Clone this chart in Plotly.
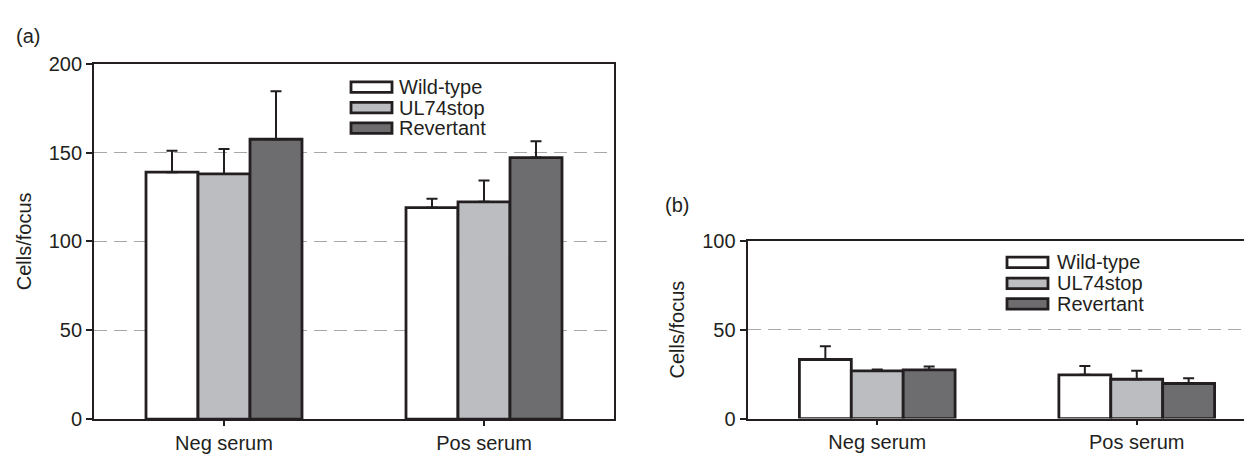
import plotly.graph_objects as go

# ---------------- data ----------------
categories = ["Neg serum", "Pos serum"]
series_names = ["Wild-type", "UL74stop", "Revertant"]

# panel (a)
a_wild = [139.0, 119.0]
a_wild_err = [12.0, 5.0]
a_ul74 = [138.0, 122.3]
a_ul74_err = [14.0, 12.0]
a_rev = [157.5, 147.2]
a_rev_err = [27.0, 9.2]

# panel (b)
b_wild = [33.2, 24.6]
b_wild_err = [7.4, 5.0]
b_ul74 = [26.8, 22.1]
b_ul74_err = [0.8, 4.8]
b_rev = [27.4, 19.7]
b_rev_err = [1.8, 3.0]

a_ticks = [0, 50, 100, 150, 200]
b_ticks = [0, 50, 100]

# ---------------- style ----------------
W, H = 1252, 463
OFF = 8  # default page body margin of the browser
INK = "#231f20"
GRID = "#a8a8a8"
FILLS = ["#ffffff", "#bcbdc0", "#6d6d6f"]
FONT = "Liberation Sans, Arial, Helvetica, sans-serif"
FS = 20


def px(x):
    return (x - OFF) / W


def py(y):
    return 1 - (y - OFF) / H


fig = go.Figure()

panels = [
    ("x", "y", [a_wild, a_ul74, a_rev], [a_wild_err, a_ul74_err, a_rev_err]),
    ("x2", "y2", [b_wild, b_ul74, b_rev], [b_wild_err, b_ul74_err, b_rev_err]),
]
for xa, ya, vals, errs in panels:
    for name, v, e, col in zip(series_names, vals, errs, FILLS):
        fig.add_trace(go.Bar(
            x=categories, y=v, name=name, xaxis=xa, yaxis=ya,
            marker=dict(color=col, line=dict(color=INK, width=2.8)),
            error_y=dict(type="data", symmetric=False, array=e,
                         arrayminus=[0] * len(e), color=INK,
                         thickness=2, width=5.5),
            showlegend=False,
        ))

axis_common = dict(
    showline=True, linecolor=INK, linewidth=1.8,
    ticks="outside", tickcolor=INK, tickwidth=1.5,
    tickfont=dict(family=FONT, size=FS, color=INK),
    zeroline=False,
)

fig.update_layout(
    width=W, height=H,
    margin=dict(l=0, r=0, t=0, b=0),
    paper_bgcolor="white", plot_bgcolor="white",
    barmode="group", bargap=0.4, bargroupgap=0,
    font=dict(family=FONT, size=FS, color=INK),
    xaxis=dict(domain=[px(94), px(614)], range=[-0.5, 1.5], anchor="y",
               mirror=True, showgrid=False, ticklen=5, **axis_common),
    yaxis=dict(domain=[py(428), py(55)], range=[0, 200], anchor="x",
               tickvals=a_ticks, mirror=True, ticklen=6,
               showgrid=True, gridcolor=GRID, gridwidth=1.3, griddash="13px,7px",
               title=dict(text="Cells/focus", standoff=12,
                          font=dict(family=FONT, size=FS, color=INK)),
               **axis_common),
    xaxis2=dict(domain=[px(747.5), 1.0], range=[-0.5, 1.475], anchor="y2",
                mirror=True, showgrid=False, ticklen=5, **axis_common),
    yaxis2=dict(domain=[py(427.5), py(240.7)], range=[0, 100], anchor="x2",
                tickvals=b_ticks, mirror=False, ticklen=6,
                showgrid=True, gridcolor=GRID, gridwidth=1.3, griddash="13px,7px",
                title=dict(text="Cells/focus", standoff=12,
                           font=dict(family=FONT, size=FS, color=INK)),
                **axis_common),
)

# ---------------- legends (drawn boxes + labels) ----------------
legend_specs = [
    # box left, box right, text left, row centres
    (351, 392, 397, [79.5, 101.0, 122.5]),
    (1007, 1048, 1055, [263.5, 285.5, 307.0]),
]
for bx0, bx1, tx, rows in legend_specs:
    for name, col, yc in zip(series_names, FILLS, rows):
        fig.add_shape(type="rect", xref="paper", yref="paper",
                      x0=px(bx0), x1=px(bx1), y0=py(yc + 5.5), y1=py(yc - 5.5),
                      fillcolor=col, line=dict(color=INK, width=2.8))
        fig.add_annotation(xref="paper", yref="paper", x=px(tx), y=py(yc),
                           text=name, showarrow=False, xanchor="left",
                           yanchor="middle",
                           font=dict(family=FONT, size=FS, color=INK))

# panel labels
fig.add_annotation(xref="paper", yref="paper", x=px(14), y=py(25.5), text="(a)",
                   showarrow=False, xanchor="left", yanchor="middle",
                   font=dict(family=FONT, size=20, color=INK))
fig.add_annotation(xref="paper", yref="paper", x=px(663), y=py(203.5), text="(b)",
                   showarrow=False, xanchor="left", yanchor="middle",
                   font=dict(family=FONT, size=20, color=INK))

fig.write_html("out.html")
